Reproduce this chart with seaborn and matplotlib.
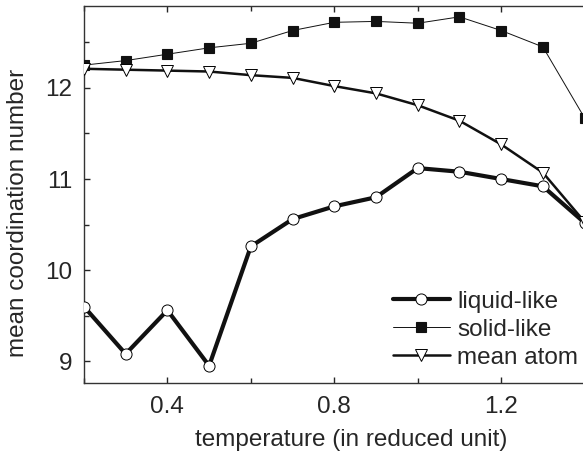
import matplotlib
matplotlib.use("Agg")
import matplotlib.pyplot as plt
import seaborn as sns
import pandas as pd
from matplotlib.ticker import MultipleLocator

temperature = [0.2, 0.3, 0.4, 0.5, 0.6, 0.7, 0.8, 0.9, 1.0, 1.1, 1.2, 1.3, 1.4]
liquid_like = [9.60, 9.08, 9.56, 8.95, 10.26, 10.56, 10.70, 10.80, 11.12, 11.08, 11.00, 10.92, 10.52]
solid_like = [12.25, 12.30, 12.37, 12.44, 12.49, 12.63, 12.72, 12.73, 12.71, 12.78, 12.63, 12.45, 11.67]
mean_atom = [12.21, 12.20, 12.19, 12.18, 12.14, 12.11, 12.02, 11.94, 11.81, 11.64, 11.38, 11.07, 10.53]

sns.set_style("ticks")
plt.rcParams['font.family'] = ['Liberation Sans', 'DejaVu Sans']

FS = 17.5
fig = plt.figure(figsize=(5.83, 4.55), dpi=100)
# the axes extends past the right edge of the figure (cropped view)
ax = fig.add_axes([0.144, 0.158, 0.916, 0.829])

df = pd.DataFrame({"T": temperature, "liquid": liquid_like, "solid": solid_like, "mean": mean_atom})

sns.lineplot(data=df, x="T", y="liquid", ax=ax, color="#111111", lw=3.0,
             marker="o", markersize=8, markerfacecolor="white", markeredgecolor="black",
             markeredgewidth=0.7, label="liquid-like", zorder=3)
sns.lineplot(data=df, x="T", y="solid", ax=ax, color="#111111", lw=0.7,
             marker="s", markersize=6.5, markerfacecolor="#111111", markeredgecolor="#111111",
             markeredgewidth=0.8, label="solid-like", zorder=3)
sns.lineplot(data=df, x="T", y="mean", ax=ax, color="#111111", lw=1.8,
             marker="v", markersize=8.5, markerfacecolor="white", markeredgecolor="black",
             markeredgewidth=0.7, label="mean atom", zorder=3)

ax.set_xlim(0.2, 1.48)
ax.set_ylim(8.76, 12.9)
ax.xaxis.set_minor_locator(MultipleLocator(0.2))
ax.yaxis.set_major_locator(MultipleLocator(1))
ax.yaxis.set_minor_locator(MultipleLocator(0.5))
ax.set_xticks([0.4, 0.8, 1.2])
ax.set_xticklabels(["0.4", "0.8", "1.2"])
ax.tick_params(which="both", direction="in", top=True, bottom=True, left=True, right=False,
               labelsize=FS, width=1)
ax.tick_params(which="major", length=4.5)
ax.tick_params(which="minor", length=3.5)
ax.tick_params(axis="x", which="major", pad=9)
ax.tick_params(axis="y", which="major", pad=8.5)
ax.spines["right"].set_visible(False)
for s in ["left", "bottom", "top"]:
    ax.spines[s].set_linewidth(1.0)
    ax.spines[s].set_color("#333333")

ax.set_xlabel("temperature (in reduced unit)", fontsize=FS, labelpad=8)
ax.set_ylabel("mean coordination number", fontsize=FS)
ax.yaxis.set_label_coords(-0.103, 0.451)

leg = ax.legend(loc="lower right", frameon=False, fontsize=FS, handlelength=2.35,
                numpoints=1, borderaxespad=0.0, labelspacing=0.25, handletextpad=0.3,
                bbox_to_anchor=(588 / 583, 0.168), bbox_transform=fig.transFigure)

fig.savefig("out.png", dpi=100)
